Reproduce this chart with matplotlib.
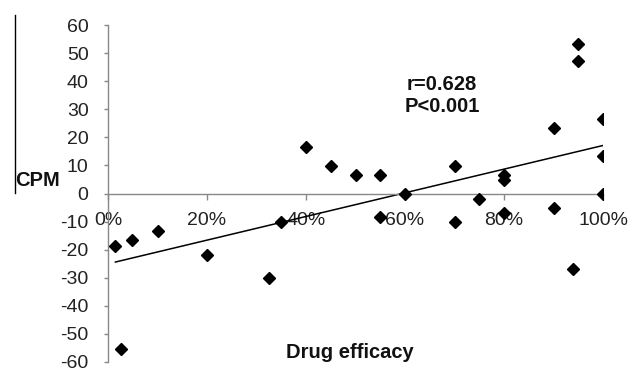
import matplotlib
matplotlib.use("Agg")
import matplotlib.pyplot as plt
from matplotlib.lines import Line2D

plt.rcParams['font.family'] = ['Liberation Sans', 'DejaVu Sans']
plt.rcParams['axes.unicode_minus'] = False

# Drug efficacy (fraction) and CPM values
efficacy = [0.015, 0.026, 0.049, 0.102, 0.20, 0.326, 0.35, 0.40,
            0.45, 0.50, 0.55, 0.55, 0.60, 0.70, 0.70, 0.75,
            0.80, 0.80, 0.80, 0.90, 0.90, 0.94, 0.95, 0.95,
            1.00, 1.00, 1.00]
cpm = [-18.7, -55.3, -16.7, -13.5, -21.8, -30.1, -10.0, 16.5,
       9.7, 6.6, 6.6, -8.4, 0.0, 9.7, -10.2, -1.9,
       6.6, 4.9, -6.8, 23.2, -5.2, -26.9, 53.3, 47.3,
       26.6, 13.3, 0.0]

# Trend line end points
trend_x = [0.015, 1.00]
trend_y = [-24.4, 17.1]

x_ticks = [0, 0.2, 0.4, 0.6, 0.8, 1.0]
x_tick_labels = ['0%', '20%', '40%', '60%', '80%', '100%']
y_ticks = [-60, -50, -40, -30, -20, -10, 0, 10, 20, 30, 40, 50, 60]

W, H = 629, 369
fig = plt.figure(figsize=(W / 100, H / 100), dpi=100)
ax = fig.add_axes([108 / W, 1 - 362 / H, (603 - 108) / W, (362 - 25) / H])

ax.plot(efficacy, cpm, linestyle='none', marker='D', markersize=6.5,
        color='black', zorder=3)
ax.plot(trend_x, trend_y, color='black', linewidth=1.1, zorder=2)

ax.set_xlim(0, 1.0)
ax.set_ylim(-60, 60)

for s in ['top', 'right']:
    ax.spines[s].set_visible(False)
ax.spines['bottom'].set_position(('data', 0))
ax.spines['left'].set_position(('data', 0))
for s in ['bottom', 'left']:
    ax.spines[s].set_color('#888888')
    ax.spines[s].set_linewidth(1.0)

ax.set_xticks(x_ticks)
ax.set_xticklabels(x_tick_labels)
ax.set_yticks(y_ticks)
ax.tick_params(axis='x', direction='out', length=4.5, width=1.0,
               color='#888888', pad=9, labelsize=14, labelcolor='#222222')
ax.tick_params(axis='y', direction='out', length=3, width=1.0,
               color='#888888', pad=11, labelsize=14, labelcolor='#222222')

fig.text(15 / W, 1 - 181 / H, 'CPM', fontsize=14.5, fontweight='bold',
         ha='left', va='center', color='#111111')
fig.text(350 / W, 1 - 353 / H, 'Drug efficacy', fontsize=14.5,
         fontweight='bold', ha='center', va='center', color='#111111')
fig.text(442 / W, 1 - 84 / H, 'r=0.628', fontsize=14.5, fontweight='bold',
         ha='center', va='center', color='#111111')
fig.text(442 / W, 1 - 107 / H, 'P<0.001', fontsize=14.5, fontweight='bold',
         ha='center', va='center', color='#111111')

fig.add_artist(Line2D([14.7 / W, 14.7 / W], [1 - 15 / H, 1 - 193 / H],
                      color='black', linewidth=1.0))

fig.savefig('out.png', dpi=100)
